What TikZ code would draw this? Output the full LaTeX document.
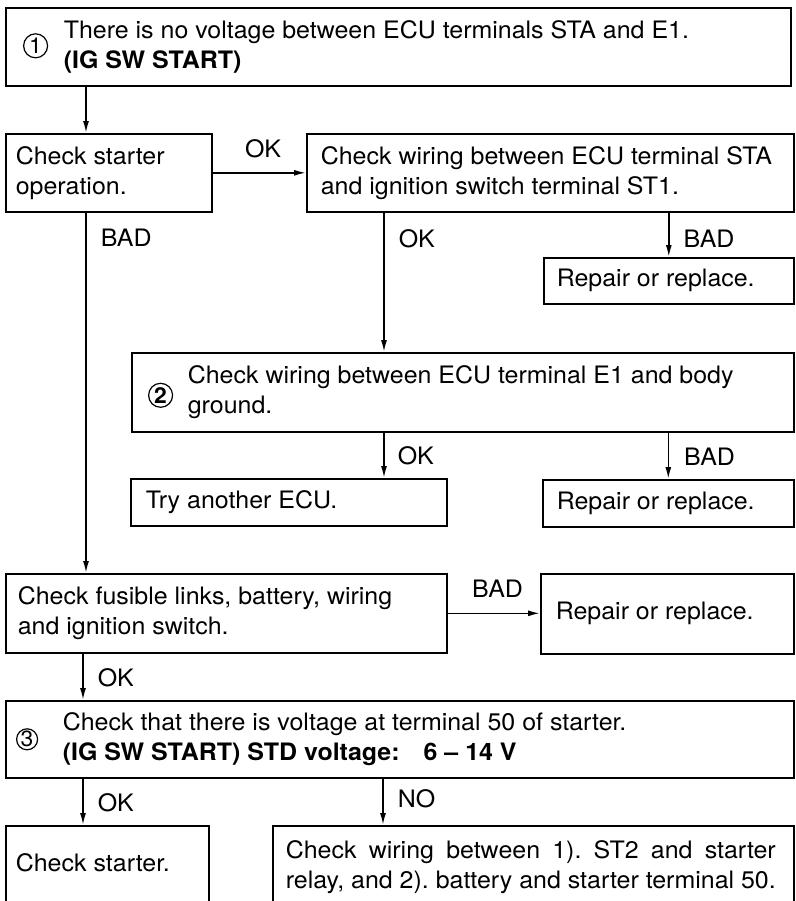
\documentclass[tikz,border=0pt]{standalone}
\usepackage{fontspec}
\setmainfont[FakeStretch=1.04]{TeX Gyre Heros}
\usetikzlibrary{arrows.meta,positioning,calc}

\begin{document}
\frenchspacing
\begin{tikzpicture}[x=0.5pt, y=-0.5pt, line width=0.8pt,
  box/.style={draw, anchor=north west, inner sep=0pt},
  txt/.style={inner sep=0pt, align=left, font=\fontsize{12}{15}\selectfont},
  lbl/.style={inner sep=0pt, font=\fontsize{12}{15}\selectfont},
  num/.style={circle, draw, line width=0.6pt, inner sep=0pt, minimum size=#1, font=\fontsize{11}{11}\selectfont},
  arr/.style={-{Latex[length=6pt,width=3pt]}}]
\useasboundingbox (0,0) rectangle (796,901);
% boxes
\node[box, minimum width=392.5pt, minimum height=39pt] (top) at (5,7) {};
\node[box, minimum width=103pt, minimum height=39pt] (starter) at (5,133) {};
\node[box, minimum width=243.5pt, minimum height=39pt] (wire1) at (306,133) {};
\node[box, minimum width=125pt, minimum height=23pt] (rep1) at (543,257) {};
\node[box, minimum width=331pt, minimum height=39.5pt] (gnd) at (131,352) {};
\node[box, minimum width=158pt, minimum height=23.5pt] (ecu) at (130,478) {};
\node[box, minimum width=125.5pt, minimum height=23.5pt] (rep2) at (542,479) {};
\node[box, minimum width=220.5pt, minimum height=39.5pt] (fuse) at (5,573) {};
\node[box, minimum width=126.5pt, minimum height=40pt] (rep3) at (540,573) {};
\node[box, minimum width=394pt, minimum height=38.5pt] (volt) at (5,700) {};
\node[box, minimum width=101.5pt, minimum height=45pt] (chkst) at (5,825) {};
\node[box, minimum width=260.5pt, minimum height=45pt] (wire3) at (272,825) {};
% texts
\node[num=12pt, right=9pt of top.west, yshift=0.5pt] (n1) {1};
\node[txt, right=29pt of top.west] (toptxt) {There is no voltage between ECU terminals STA and E1.\\\textbf{(IG SW START)}};
\node[txt, right=5pt of starter.west] (startertxt) {Check starter\\operation.};
\node[txt, right=7pt of wire1.west] (wire1txt) {Check wiring between ECU terminal STA\\and ignition switch terminal ST1.};
\node[txt, right=6.5pt of rep1.west] (rep1txt) {Repair or replace.};
\node[num=12pt, right=8.5pt of gnd.west, yshift=-1.5pt] (n2) {\textbf{2}};
\node[txt, right=28pt of gnd.west] (gndtxt) {Check wiring between ECU terminal E1 and body\\ground.};
\node[txt, right=7.5pt of ecu.west] (ecutxt) {Try another ECU.};
\node[txt, right=7pt of rep2.west] (rep2txt) {Repair or replace.};
\node[txt, right=6pt of fuse.west] (fusetxt) {Check fusible links, battery, wiring\\and ignition switch.};
\node[txt, right=7.5pt of rep3.west] (rep3txt) {Repair or replace.};
\node[num=10.5pt, right=5.5pt of volt.west] (n3) {3};
\node[txt, right=28.5pt of volt.west] (volttxt) {Check that there is voltage at terminal 50 of starter.\\\textbf{(IG SW START) STD voltage:\hspace{1em}6 -- 14 V}};
\node[txt, below right=14pt and 5pt of chkst.north west] (chksttxt) {Check starter.};
\node[txt, below right=7.5pt and 6.5pt of wire3.north west] (wire3txt) {\makebox[245pt][s]{Check wiring between 1). ST2 and starter}\\relay, and 2). battery and starter terminal 50.};
% connectors
\draw[arr] ([xshift=40.5pt]top.south west) -- ([xshift=40.5pt]starter.north west);
\draw[arr] (starter.east) -- node[lbl, above=7pt, pos=0.54] (okA) {OK} (wire1.west);
\draw[arr] ([xshift=40.5pt]starter.south west) coordinate (badA) -- node[lbl, right=7pt, pos=0.07] (badAl) {BAD} (badA |- fuse.north);
\draw[arr] ([xshift=39pt]wire1.south west) coordinate (okB) -- node[lbl, right=7pt, pos=0.19] (okBl) {OK} (okB |- gnd.north);
\draw[arr] (rep1.north |- wire1.south) -- node[lbl, right=7pt, pos=0.58] (badBl) {BAD} (rep1.north);
\draw[arr] ([xshift=126.5pt]gnd.south west) coordinate (okC) -- node[lbl, right=6.5pt, pos=0.51] (okCl) {OK} (okC |- ecu.north);
\draw[arr] (rep2.north |- gnd.south) -- node[lbl, right=7.5pt, pos=0.51] (badCl) {BAD} (rep2.north);
\draw[arr] (fuse.east) -- node[lbl, above=7.5pt, pos=0.54] (badDl) {BAD} (fuse.east -| rep3.west);
\draw[arr] ([xshift=39pt]fuse.south west) coordinate (okD) -- node[lbl, right=7pt, pos=0.53] (okDl) {OK} (okD |- volt.north);
\draw[arr] ([xshift=39pt]volt.south west) coordinate (okE) -- node[lbl, right=7pt, pos=0.53] (okEl) {OK} (okE |- chkst.north);
\draw[arr] ([xshift=189pt]volt.south west) coordinate (noE) -- node[lbl, right=7pt, pos=0.43] (noEl) {NO} (noE |- wire3.north);
\end{tikzpicture}
\end{document}
